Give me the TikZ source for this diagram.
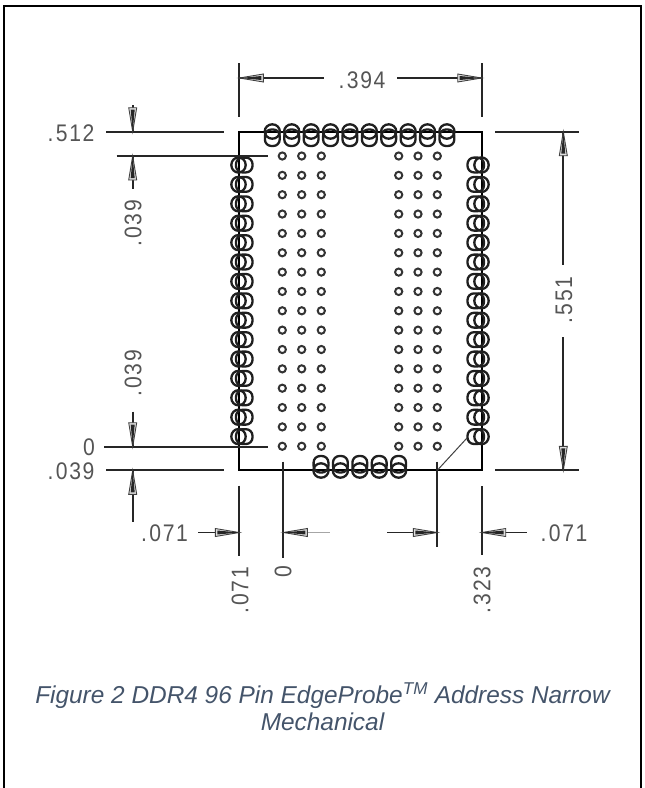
\documentclass[tikz,border=0pt]{standalone}
\usepackage{fontspec}
\setmainfont{Liberation Sans}
\newfontfamily\dimfont[FakeStretch=0.88,LetterSpace=7]{Liberation Sans}
\definecolor{capblue}{HTML}{44546A}
\definecolor{dimgray}{HTML}{555555}
\tikzset{
  frameline/.style={line width=2pt,black},
  dimline/.style={line width=1.7pt,black!85},
  part/.style={line width=1.7pt,black},
  padring/.style={line width=2.3pt,black!88},
  padbox/.style={line width=2.3pt,black!88,rounded corners=6.5pt},
  dotring/.style={line width=2pt,black!80,fill=white},
  arrowhd/.style={line width=.9pt,black!75,fill=black!12},
  dimlabel/.style={inner sep=0pt,text=dimgray,font=\dimfont\fontsize{24}{24}\selectfont},
  caption/.style={inner sep=0pt,align=center,text=capblue,font=\fontsize{24.4}{27}\selectfont\itshape}
}
\newcommand{\dimdot}{.\kern2.5pt}
% arrow head: tip at #1,#2, direction vector #3,#4 pointing from tip to base
\newcommand{\dimhead}[4]{%
  \filldraw[arrowhd] (#1,#2) -- ++({#3*24+#4*4},{#4*24+#3*4}) -- ++({-#4*8},{-#3*8}) -- cycle;
  \fill[black!85] (#1,#2) -- ++({#3*22+#4*2},{#4*22+#3*2}) -- ++({-#4*4},{-#3*4}) -- cycle;
}
\begin{document}
\begin{tikzpicture}[x=1pt,y=-1pt]
\useasboundingbox (0,0) rectangle (645,788);
% page frame
\draw[frameline] (4,789) -- (4,5.5) -- (640.5,5.5) -- (640.5,789);
% part outline
\draw[part] (239.3,131.7) rectangle (481.7,470.3);
% inner dots
\foreach \x in {282.3,301.7,321.3,398.7,418,437.3}
  \foreach \i in {0,...,15}
    \draw[dotring] (\x,{156+19.35*\i}) circle (3.6);
% left and right pads
\foreach \i in {0,...,14}{
  \pgfmathsetmacro\yy{165+19.4*\i}
  \draw[padring] (238.5,\yy) circle[x radius=7.2,y radius=7.6];
  \draw[padbox] (236,{\yy-7.4}) rectangle (252.5,{\yy+7.4});
  \draw[padring] (481.5,\yy) circle[x radius=7.2,y radius=7.6];
  \draw[padbox] (467.5,{\yy-7.4}) rectangle (484,{\yy+7.4});
}
% top pads
\foreach \x in {272.3,291.7,311.1,330.5,349.9,369.3,388.7,408.1,427.5,446.9}{
  \draw[padring] (\x,131.5) circle[x radius=7.6,y radius=7.2];
  \draw[padbox] ({\x-7.4},129.5) rectangle ({\x+7.4},146);
}
% bottom pads
\foreach \x in {321,340.4,359.8,379.2,398.6}{
  \draw[padring] (\x,470.5) circle[x radius=7.6,y radius=7.2];
  \draw[padbox] ({\x-7.4},456) rectangle ({\x+7.4},472.5);
}
% leader
\draw[line width=1pt,black!75] (437.3,470.3) -- (467,438);
% extension lines
\draw[dimline] (239.3,63) -- (239.3,117);
\draw[dimline] (481.7,63) -- (481.7,117);
\draw[dimline] (106,131.7) -- (224,131.7);
\draw[dimline] (116.7,156) -- (268.3,156);
\draw[dimline] (104,446.7) -- (268.3,446.7);
\draw[dimline] (106,470.3) -- (224,470.3);
\draw[dimline] (495,131.7) -- (579,131.7);
\draw[dimline] (495,470.3) -- (579,470.3);
\draw[dimline] (239.3,485.7) -- (239.3,555.7);
\draw[dimline] (283.3,461.7) -- (283.3,557.7);
\draw[dimline] (437.3,461.7) -- (437.3,546.7);
\draw[dimline] (481.7,486) -- (481.7,555);
% dimension lines
\draw[dimline] (239.3,78) -- (324,78);
\draw[dimline] (397,78) -- (481.7,78);
\draw[dimline] (132.7,105) -- (132.7,131.7);
\draw[dimline] (132.7,156) -- (132.7,188.7);
\draw[dimline] (132.7,411.7) -- (132.7,446.7);
\draw[dimline] (132.7,470.3) -- (132.7,521.7);
\draw[dimline] (563.3,131.7) -- (563.3,265);
\draw[dimline] (563.3,337) -- (563.3,470.3);
\draw[dimline] (198,532.5) -- (239.3,532.5);
\draw[line width=1.7pt,black!35] (283.3,532.5) -- (330,532.5);
\draw[dimline] (387,532.5) -- (437.3,532.5);
\draw[dimline] (481.7,532.5) -- (526.7,532.5);
% arrow heads
\dimhead{239.3}{78}{1}{0}
\dimhead{481.7}{78}{-1}{0}
\dimhead{132.7}{131.7}{0}{-1}
\dimhead{132.7}{156}{0}{1}
\dimhead{132.7}{446.7}{0}{-1}
\dimhead{132.7}{470.3}{0}{1}
\dimhead{563.3}{131.7}{0}{1}
\dimhead{563.3}{470.3}{0}{-1}
\dimhead{239.3}{532.5}{-1}{0}
\dimhead{283.3}{532.5}{1}{0}
\dimhead{437.3}{532.5}{-1}{0}
\dimhead{481.7}{532.5}{1}{0}
% labels
\node[dimlabel] (l394) at (362,80) {\dimdot 394};
\node[dimlabel] (l512) at (71,133) {\dimdot 512};
\node[dimlabel,rotate=90] (l039a) at (133,223.5) {\dimdot 039};
\node[dimlabel,rotate=90] (l039b) at (133,373.5) {\dimdot 039};
\node[dimlabel] (l0a) at (89,447) {0};
\node[dimlabel] (l039c) at (71,471) {\dimdot 039};
\node[dimlabel] (l071a) at (164.5,533) {\dimdot 071};
\node[dimlabel] (l071b) at (564,533) {\dimdot 071};
\node[dimlabel,rotate=90] (l551) at (564,300) {\dimdot 551};
\node[dimlabel,rotate=90] (l071c) at (240,590.5) {\dimdot 071};
\node[dimlabel,rotate=90] (l0b) at (283,572) {0};
\node[dimlabel,rotate=90] (l323) at (482,590) {\dimdot 323};
\node[caption] (cap) at (322.5,706.5) {Figure 2 DDR4 96 Pin EdgeProbe\textsuperscript{TM} Address Narrow\\Mechanical};
\end{tikzpicture}
\end{document}
